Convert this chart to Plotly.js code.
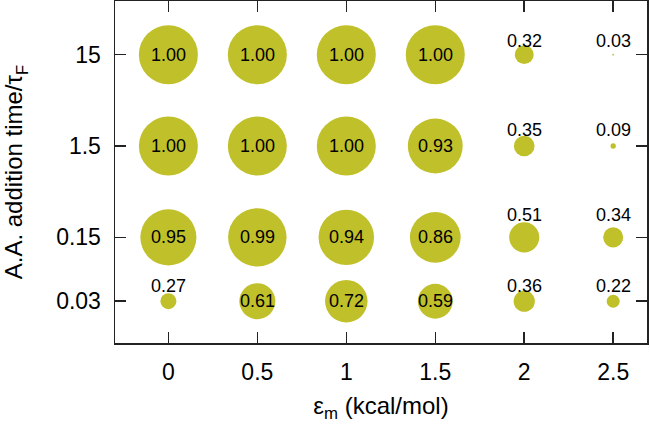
<!DOCTYPE html>
<html><head><meta charset="utf-8">
<script src="https://cdn.plot.ly/plotly-3.0.1.min.js"></script>
<style>body{margin:0;padding:0;}#chart{width:650px;height:429px;}</style>
</head><body><div id="chart"></div>
<script>
const epsilon = [0, 0.5, 1, 1.5, 2, 2.5];
const addTimes = [0.03, 0.15, 1.5, 15];
const yTickLabels = ["0.03", "0.15", "1.5", "15"];
const xTickLabels = ["0", "0.5", "1", "1.5", "2", "2.5"];
// values by addition time row, columns follow epsilon
const row003 = [0.27, 0.61, 0.72, 0.59, 0.36, 0.22];
const row015 = [0.95, 0.99, 0.94, 0.86, 0.51, 0.34];
const row15 = [1.00, 1.00, 1.00, 0.93, 0.35, 0.09];
const row15b = [1.00, 1.00, 1.00, 1.00, 0.32, 0.03];
const rows = [row003, row015, row15, row15b];

// pixel offsets of labels drawn above small bubbles, per row (style only)
const aboveShift = [15, 22, 16, 14];

const xs = [], ys = [], vals = [], annots = [];
const labelFont = {family: 'Liberation Sans, Arial, sans-serif', size: 18, color: '#000'};
rows.forEach((r, i) => r.forEach((v, j) => {
  xs.push(epsilon[j]); ys.push(addTimes[i]); vals.push(v);
  const inside = v > 0.55;
  annots.push({
    x: epsilon[j], y: Math.log10(addTimes[i]), xref: 'x', yref: 'y',
    text: v.toFixed(2), showarrow: false, font: labelFont,
    xanchor: 'center', yanchor: 'middle', yshift: inside ? 0 : aboveShift[i]
  });
}));

const trace = {
  x: xs, y: ys, mode: 'markers', type: 'scatter',
  marker: {size: vals.map(v => v * 59), sizemode: 'diameter', color: '#c0c02a', opacity: 1, line: {width: 0}},
  cliponaxis: false, hoverinfo: 'none'
};

const tickFont = {family: 'Liberation Sans, Arial, sans-serif', size: 23, color: '#000'};
const titleFont = {family: 'Liberation Sans, Arial, sans-serif', size: 24, color: '#000'};
const layout = {
  width: 650, height: 429,
  margin: {l: 115, r: 3, t: 1, b: 86},
  paper_bgcolor: '#fff', plot_bgcolor: '#fff',
  showlegend: false,
  annotations: annots,
  xaxis: {
    range: [-0.3, 2.69], tickvals: epsilon, ticktext: xTickLabels,
    ticks: 'inside', ticklen: 11, tickwidth: 1.5, tickcolor: '#222',
    showline: true, linecolor: '#222', linewidth: 1.5, mirror: 'ticks',
    showgrid: false, zeroline: false, tickfont: tickFont, ticklabelstandoff: 8,
    title: {text: 'ε<sub>m</sub> (kcal/mol)', font: titleFont, standoff: 13}
  },
  yaxis: {
    type: 'log', range: [-1.98, 1.763], tickvals: addTimes, ticktext: yTickLabels,
    ticks: 'inside', ticklen: 11, tickwidth: 1.5, tickcolor: '#222',
    showline: true, linecolor: '#222', linewidth: 1.5, mirror: 'ticks',
    showgrid: false, zeroline: false, tickfont: tickFont, ticklabelstandoff: 8,
    title: {text: 'A.A. addition time/τ<sub>F</sub>', font: titleFont, standoff: 26}
  }
};
Plotly.newPlot('chart', [trace], layout, {displayModeBar: false, staticPlot: true});
</script></body></html>
